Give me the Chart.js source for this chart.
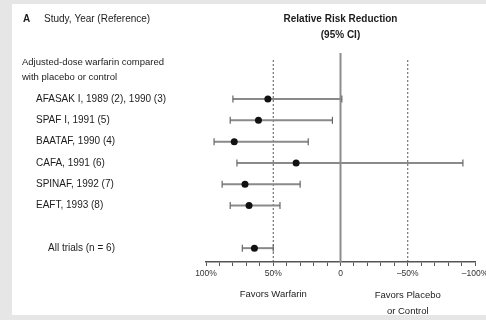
<!DOCTYPE html>
<html>
<head>
<meta charset="utf-8">
<script src="https://cdn.jsdelivr.net/npm/chart.js@4.4.1/dist/chart.umd.min.js"></script>
<style>
  html, body { margin: 0; padding: 0; width: 486px; height: 320px; overflow: hidden; background: #e6e6e6; }
  #panel { position: absolute; left: 12px; top: 4px; width: 474px; height: 311px; background: #ffffff; }
  #wrap { position: absolute; left: 0; top: 0; width: 500px; height: 320px; }
</style>
</head>
<body>
<div id="panel"></div>
<div id="wrap"><canvas id="c" width="500" height="320"></canvas></div>
<script>
// Trials of adjusted-dose warfarin vs placebo/control: relative risk reduction (%) with 95% CI
const studies = ['AFASAK I, 1989 (2), 1990 (3)', 'SPAF I, 1991 (5)', 'BAATAF, 1990 (4)', 'CAFA, 1991 (6)', 'SPINAF, 1992 (7)', 'EAFT, 1993 (8)'];
const studyRows = [0, 1, 2, 3, 4, 5];
const rrr = [54, 61, 79, 33, 71, 68];
const ciLower = [-1, 6, 24, -91, 30, 45];
const ciUpper = [80, 82, 94, 77, 88, 82];

const pooledLabel = 'All trials (n = 6)';
const pooledRow = [7];
const pooledRrr = [64];
const pooledLower = [50];
const pooledUpper = [73];

// Axis: labelled ticks and reference lines
const tickLabels = { '100': '100%', '50': '50%', '0': '0', '-50': '\u201350%', '-100': '\u2013100%' };
const dashedRefs = [50, -50];
const solidRef = [0];

const FONT = '"Liberation Sans", Arial, sans-serif';
const INK = '#1c1c1c';

const rows = studyRows.concat(pooledRow);
const centers = rrr.concat(pooledRrr);
const lows = ciLower.concat(pooledLower);
const highs = ciUpper.concat(pooledUpper);
const labels = studies.concat([pooledLabel]);

const forestPlugin = {
  id: 'forest',
  beforeDatasetsDraw(chart) {
    const { ctx, chartArea, scales: { x, y } } = chart;
    ctx.save();
    // reference line at no effect
    solidRef.forEach(v => {
      const px = x.getPixelForValue(v);
      ctx.strokeStyle = '#8c8c8c';
      ctx.lineWidth = 2;
      ctx.beginPath();
      ctx.moveTo(px, chartArea.top);
      ctx.lineTo(px, chartArea.bottom);
      ctx.stroke();
    });
    // dashed lines at +/-50%
    dashedRefs.forEach(v => {
      const px = x.getPixelForValue(v);
      ctx.strokeStyle = '#555';
      ctx.lineWidth = 1;
      ctx.setLineDash([2, 2]);
      ctx.beginPath();
      ctx.moveTo(px, chartArea.top + 7);
      ctx.lineTo(px, chartArea.bottom);
      ctx.stroke();
      ctx.setLineDash([]);
    });
    // confidence interval whiskers
    rows.forEach((r, i) => {
      const py = y.getPixelForValue(r);
      const x1 = x.getPixelForValue(highs[i]);
      const x2 = x.getPixelForValue(lows[i]);
      ctx.strokeStyle = '#8a8a8a';
      ctx.lineWidth = 2;
      ctx.beginPath();
      ctx.moveTo(x1, py);
      ctx.lineTo(x2, py);
      ctx.stroke();
      ctx.strokeStyle = '#666';
      ctx.lineWidth = 1.2;
      [x1, x2].forEach(px => {
        ctx.beginPath();
        ctx.moveTo(px, py - 3.5);
        ctx.lineTo(px, py + 3.5);
        ctx.stroke();
      });
    });
    ctx.restore();
  },
  afterDraw(chart) {
    const { ctx, scales: { x, y } } = chart;
    ctx.save();
    ctx.fillStyle = INK;
    ctx.textBaseline = 'middle';

    // column headers
    ctx.textAlign = 'left';
    ctx.font = 'bold 10px ' + FONT;
    ctx.fillText('A', 23, 19);
    ctx.font = '10px ' + FONT;
    ctx.fillText('Study, Year (Reference)', 44, 19);
    ctx.textAlign = 'center';
    ctx.font = 'bold 10px ' + FONT;
    const cx = x.getPixelForValue(0);
    ctx.fillText('Relative Risk Reduction', cx, 19);
    ctx.fillText('(95% CI)', cx, 35);

    // group heading
    ctx.textAlign = 'left';
    ctx.font = '9.5px ' + FONT;
    ctx.fillText('Adjusted-dose warfarin compared', 22, 62);
    ctx.fillText('with placebo or control', 22, 77);

    // study labels on their rows
    ctx.font = '10px ' + FONT;
    rows.forEach((r, i) => {
      const indent = i < studies.length ? 36 : 48;
      ctx.fillText(labels[i], indent, y.getPixelForValue(r));
    });

    // direction captions under the axis
    ctx.textAlign = 'center';
    ctx.font = '9.5px ' + FONT;
    ctx.fillText('Favors Warfarin', x.getPixelForValue(50), 294);
    ctx.fillText('Favors Placebo', x.getPixelForValue(-50), 295);
    ctx.fillText('or Control', x.getPixelForValue(-50), 311);
    ctx.restore();
  }
};

new Chart(document.getElementById('c'), {
  type: 'scatter',
  data: {
    datasets: [{
      data: rows.map((r, i) => ({ x: centers[i], y: r })),
      pointRadius: 3.5,
      pointHoverRadius: 3.5,
      pointBackgroundColor: '#111',
      pointBorderColor: '#111',
      pointBorderWidth: 0
    }]
  },
  options: {
    responsive: false,
    animation: false,
    events: [],
    layout: { padding: { left: 206, right: 25, top: 53, bottom: 38 } },
    plugins: { legend: { display: false }, tooltip: { enabled: false } },
    scales: {
      x: {
        type: 'linear',
        min: -100,
        max: 100,
        reverse: true,
        afterFit(s) { s.height = 20; },
        border: { display: true, color: '#555', width: 1.5 },
        grid: { drawOnChartArea: false, drawTicks: true, tickLength: 4, tickColor: '#555', tickWidth: 1 },
        ticks: {
          stepSize: 10,
          autoSkip: false,
          maxRotation: 0,
          padding: 3,
          color: '#333',
          font: { family: FONT, size: 8.5 },
          callback: v => tickLabels[String(v)] || ''
        }
      },
      y: {
        type: 'linear',
        display: false,
        reverse: true,
        min: -2.16,
        max: 7.65
      }
    }
  },
  plugins: [forestPlugin]
});
</script>
</body>
</html>
